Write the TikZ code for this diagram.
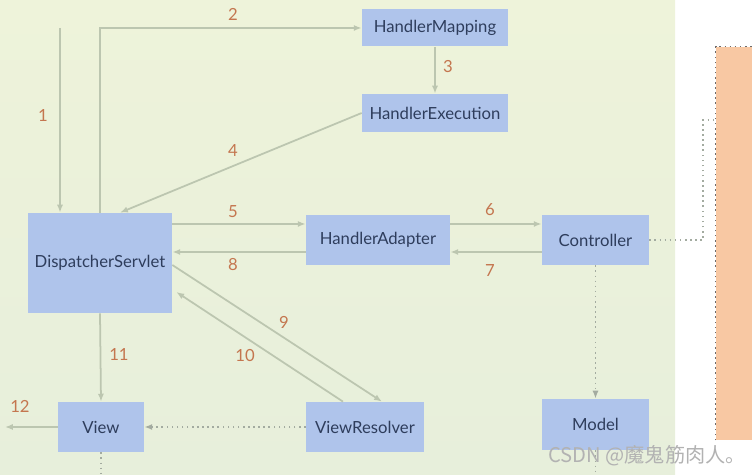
\documentclass[tikz,border=0pt]{standalone}
\usepackage{fontspec}
\setmainfont{Lato}
\newfontfamily\cjkfont{Noto Sans CJK SC}
\usetikzlibrary{arrows.meta}
\definecolor{boxblue}{HTML}{AFC4EB}
\definecolor{boxtext}{HTML}{2E3D5C}
\definecolor{flowgray}{HTML}{BCC6B0}
\definecolor{hintgray}{HTML}{A3ABA0}
\definecolor{numorange}{HTML}{C4764F}
\definecolor{panelgreen}{HTML}{E7EFDB}
\definecolor{paneltop}{HTML}{EEF3DA}
\definecolor{pageorange}{HTML}{F8C8A3}
\begin{document}
\begin{tikzpicture}
    [x=0.02cm, y=-0.02cm,
    box/.style={fill=boxblue, text=boxtext, inner sep=0pt,
      font=\fontsize{9.5}{11}\selectfont},
    flow/.style={draw=flowgray, line width=1pt, -{Latex[length=4.5pt,width=3.5pt]}},
    hint/.style={draw=hintgray, line width=0.9pt, dotted},
    num/.style={text=numorange, font=\fontsize{9.5}{11}\selectfont}]
    \useasboundingbox (0,0) rectangle (752,475);
    \shade[top color=paneltop, bottom color=panelgreen] (0,0) rectangle (675,475);
    \node[fill=pageorange, inner sep=0pt, minimum width=0.88cm, minimum height=7.86cm] (page) at (738,243.5) {};
    \draw[hint, draw=gray!85!black] (page.south west) -- (page.north west) -- (page.north east);
    \node[box, minimum width=2.92cm, minimum height=0.74cm] (mapping) at (435,28) {HandlerMapping};
    \node[box, minimum width=2.92cm, minimum height=0.76cm] (execution) at (435,113) {HandlerExecution};
    \node[box, minimum width=2.88cm, minimum height=2cm] (dispatcher) at (100,263) {DispatcherServlet};
    \node[box, minimum width=2.88cm, minimum height=1cm] (adapter) at (378,240) {HandlerAdapter};
    \node[box, minimum width=2.14cm, minimum height=1cm] (controller) at (595.5,240) {Controller};
    \node[box, minimum width=1.72cm, minimum height=1cm] (view) at (101,427) {View};
    \node[box, minimum width=2.36cm, minimum height=1cm] (resolver) at (365,427) {ViewResolver};
    \node[box, minimum width=2.14cm, minimum height=1.02cm] (model) at (595.5,424.5) {Model};
    \coordinate (request) at (60,28);
    \coordinate (response) at (5,427);
    \coordinate (viewend) at (101,475);
    \coordinate (modelend) at (595.5,475);
    \coordinate (bend) at (703,120);
    \draw[flow] (request) -- (request |- dispatcher.north);
    \draw[flow] (dispatcher.north) |- (mapping.west);
    \draw[flow] (mapping.south) -- (execution.north);
    \draw[flow] (execution.west) -- ([xshift=0.4cm]dispatcher.north);
    \draw[flow] (dispatcher.east |- 0,224) -- (adapter.west |- 0,224);
    \draw[flow] (adapter.east |- 0,224) -- (controller.west |- 0,224);
    \draw[flow] (controller.west |- 0,252) -- (adapter.east |- 0,252);
    \draw[flow] (adapter.west |- 0,252) -- (dispatcher.east |- 0,252);
    \draw[flow] (dispatcher.east |- 0,265) -- ([xshift=0.34cm]resolver.north);
    \draw[flow] ([xshift=-0.44cm]resolver.north) -- ([xshift=0.08cm]dispatcher.east |- 0,292);
    \draw[flow] (dispatcher.south) -- (view.north);
    \draw[flow] (view.west) -- (response);
    \draw[hint, -{Latex[length=4.5pt,width=3.5pt]}] (resolver.west) -- (view.east);
    \draw[hint] (view.south) -- (viewend);
    \draw[hint, -{Latex[length=4.5pt,width=3.5pt]}] (controller.south) -- (model.north);
    \draw[hint] (model.south) -- (modelend);
    \draw[hint] (controller.east) -| (bend) -- (bend -| page.west);
    \node[num] (n1) at (43,116) {1};
    \node[num] (n2) at (233,14) {2};
    \node[num] (n3) at (448,67) {3};
    \node[num] (n4) at (233,151) {4};
    \node[num] (n5) at (233,212) {5};
    \node[num] (n6) at (490,210) {6};
    \node[num] (n7) at (490,271) {7};
    \node[num] (n8) at (233,265) {8};
    \node[num] (n9) at (284,322) {9};
    \node[num] (n10) at (245,356) {10};
    \node[num] (n11) at (119,355) {11};
    \node[num] (n12) at (20,406) {12};
    \node[text=gray!60, font=\cjkfont\fontsize{11.5}{13}\selectfont] (mark) at (647,456) {CSDN @魔鬼筋肉人。};
\end{tikzpicture}
\end{document}
